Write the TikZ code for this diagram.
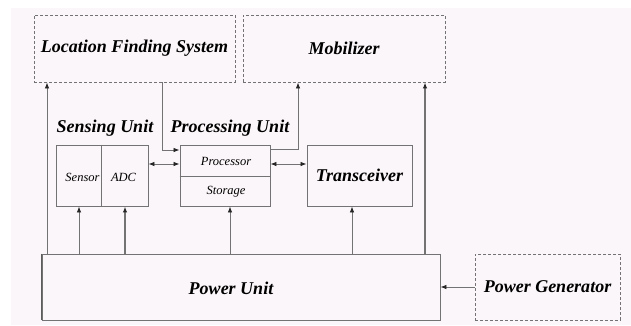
\documentclass[tikz,border=0pt]{standalone}
\usepackage{fontspec}
\setmainfont{Liberation Serif}
\usetikzlibrary{arrows.meta}
\definecolor{bgpink}{RGB}{251,246,249}
\definecolor{linegray}{RGB}{115,115,115}
\begin{document}
\begin{tikzpicture}[x=1pt,y=-1pt,
  box/.style={draw=linegray,line width=0.9pt,rectangle,inner sep=0pt},
  dbox/.style={draw=linegray,line width=0.9pt,dash pattern=on 3pt off 2pt,rectangle,inner sep=0pt},
  big/.style={font=\fontsize{18}{20}\selectfont\bfseries\itshape},
  small/.style={font=\fontsize{12.5}{14}\selectfont\itshape},
  conn/.style={draw=linegray,line width=0.8pt},
  arr/.style={conn,-{Latex[length=6pt,width=4.5pt,color=black!85]}},
  darr/.style={conn,{Latex[length=6pt,width=4.5pt,color=black!85]}-{Latex[length=6pt,width=4.5pt,color=black!85]}}]
\useasboundingbox (0,0) rectangle (631,325);
\fill[white] (0,0) rectangle (631,325);
\fill[bgpink] (11,8) rectangle (631,325);

% boxes
\node[dbox,minimum width=201pt,minimum height=67pt,big] (lfs) at (134.5,48.5) {Location Finding System};
\node[dbox,minimum width=202pt,minimum height=67pt,big] (mob) at (344,48.5) {Mobilizer};
\node[box,minimum width=92pt,minimum height=61pt] (sens) at (102,175.5) {};
\node[box,minimum width=90pt,minimum height=61pt] (proc) at (225,175.5) {};
\node[box,minimum width=105pt,minimum height=61pt,big] (trx) at (359.5,175.5) {Transceiver};
\node[box,minimum width=398pt,minimum height=66pt] (power) at (241,287) {};
\node[big] (powerlbl) at (231,288) {Power Unit};
\node[dbox,minimum width=145pt,minimum height=66pt,big] (pg) at (547.5,287) {Power Generator};
\draw[draw=linegray!80!black,line width=1.6pt] (power.north west) -- (power.south west);

% inner parts
\coordinate (xdiv) at (101,0);
\coordinate (ydiv) at (0,176);
\draw[conn] (xdiv |- sens.north) -- (xdiv |- sens.south);
\draw[conn] (proc.west |- ydiv) -- (proc.east |- ydiv);
\node[small] (sensor) at (82.5,177) {Sensor};
\node[small] (adc) at (123.5,177) {ADC};
\node[small] (processor) at (226,161) {Processor};
\node[small] (storage) at (226,192) {Storage};

% labels
\node[big] (senslbl) at (105,128) {Sensing Unit};
\node[big] (proclbl) at (230,128) {Processing Unit};

% power arrows
\coordinate (x47) at (47,0);
\coordinate (x79) at (79,0);
\coordinate (x125) at (125,0);
\coordinate (x230) at (230,0);
\coordinate (x352) at (352,0);
\coordinate (x425) at (425,0);
\draw[arr] (x47 |- power.north) -- (x47 |- lfs.south);
\draw[arr] (x79 |- power.north) -- (x79 |- sens.south);
\draw[arr,line width=1.3pt] (x125 |- power.north) -- (x125 |- sens.south);
\draw[arr] (x230 |- power.north) -- (x230 |- proc.south);
\draw[arr] (x352 |- power.north) -- (x352 |- trx.south);
\draw[arr,line width=1.1pt] (x425 |- power.north) -- (x425 |- mob.south);
\draw[arr] (pg.west) -- (power.east);

% data arrows
\coordinate (y164) at (0,164);
\draw[darr] (sens.east |- y164) -- (proc.west |- y164);
\draw[darr] (proc.east |- y164) -- (trx.west |- y164);
\coordinate (x162) at (162,0);
\coordinate (y150) at (0,150);
\draw[arr] (x162 |- lfs.south) |- (proc.west |- y150);
\coordinate (x298) at (298,0);
\coordinate (y149) at (0,149);
\draw[arr] (proc.east |- y149) -| (x298 |- mob.south);
\end{tikzpicture}
\end{document}
